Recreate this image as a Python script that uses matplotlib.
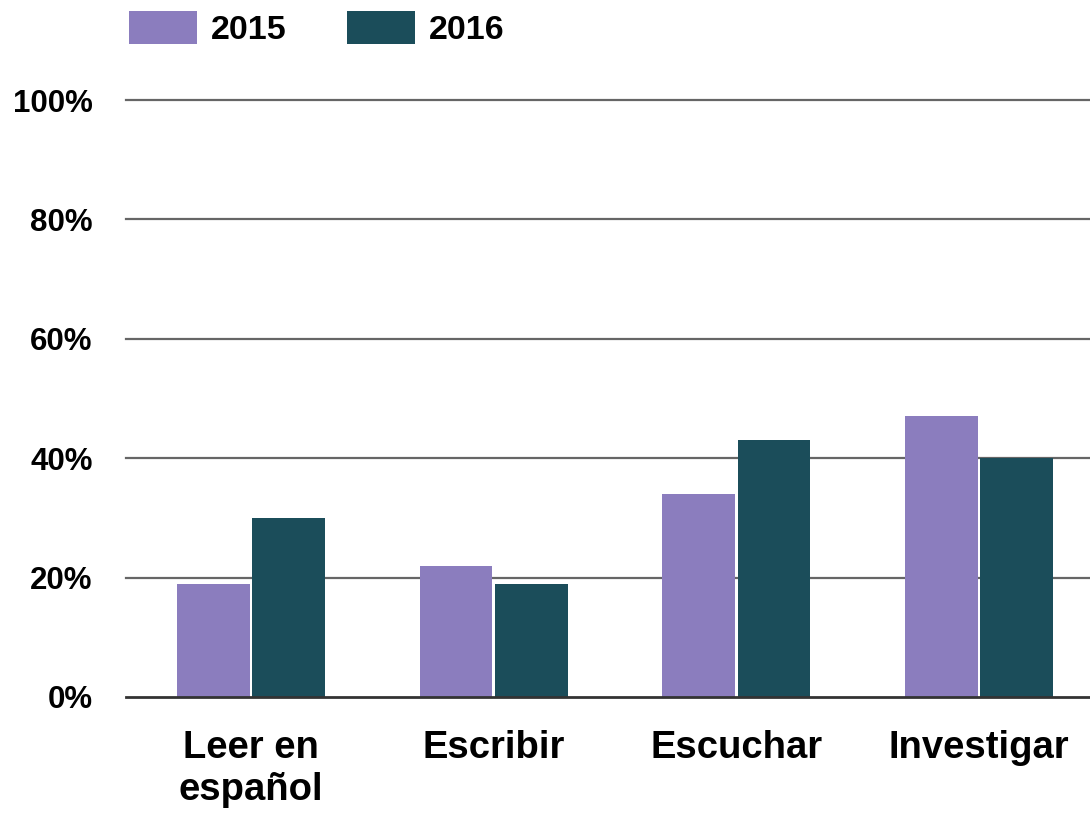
import matplotlib
matplotlib.use("Agg")
import matplotlib.pyplot as plt
import numpy as np

categories = ["Leer en\nespañol", "Escribir", "Escuchar", "Investigar"]
series_names = ["2015", "2016"]
values_2015 = [19, 22, 34, 47]
values_2016 = [30, 19, 43, 40]
yticks = [0, 20, 40, 60, 80, 100]
ytick_labels = ["0%", "20%", "40%", "60%", "80%", "100%"]

colors = ["#8b7dbe", "#1b4d5a"]

plt.rcParams['font.family'] = ['Liberation Sans', 'DejaVu Sans']
W, H = 1090, 815
fig = plt.figure(figsize=(W / 100, H / 100), dpi=100)
left, right, bottom, top = 126, 1090, 697, 100
ax = fig.add_axes([left / W, 1 - bottom / H, (right - left) / W, (bottom - top) / H])

x = np.arange(len(categories))
bw = 0.30
off = 0.155
ax.bar(x - off, values_2015, bw, color=colors[0], label=series_names[0], zorder=3)
ax.bar(x + off, values_2016, bw, color=colors[1], label=series_names[1], zorder=3)

ax.set_ylim(0, 100)
ax.set_xlim(-0.515, -0.515 + (right - left) / 242.7)

for yv in yticks[1:]:
    ax.axhline(yv, color="#666666", lw=1.6, zorder=1, clip_on=False)
ax.axhline(0, color="#333333", lw=2.0, zorder=4, clip_on=False)

for s in ax.spines.values():
    s.set_visible(False)

ax.set_yticks(yticks)
ax.set_yticklabels(ytick_labels, fontsize=22.5, fontweight="bold")
ax.tick_params(axis="y", length=0, pad=24)
ax.set_xticks(x)
ax.set_xticklabels(categories, fontsize=27.5, fontweight="bold", linespacing=1.2)
ax.tick_params(axis="x", length=0, pad=24)

leg = fig.legend(loc="upper left", bbox_to_anchor=(129 / W, 1 - 11 / H), ncol=2,
                 frameon=False, prop={"size": 24.5, "weight": "bold"},
                 handlelength=2.0, handleheight=1.1, handletextpad=0.42,
                 columnspacing=1.75, borderpad=0, borderaxespad=0)

fig.savefig("out.png", dpi=100)
